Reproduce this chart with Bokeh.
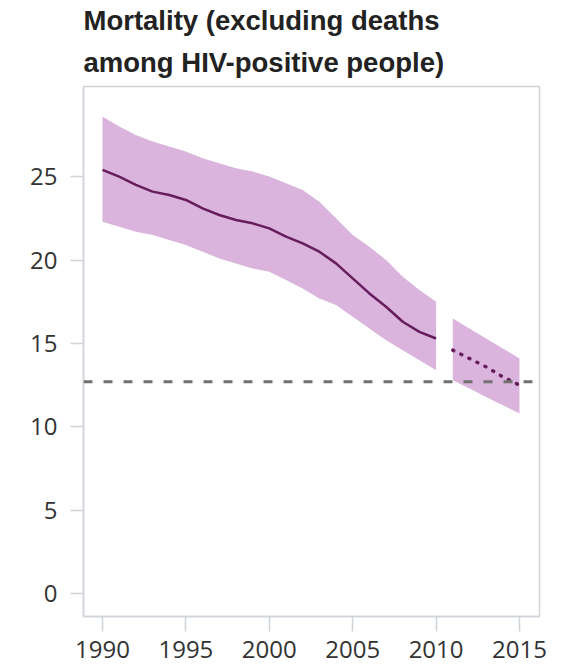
from bokeh.plotting import figure
from bokeh.models import Span, Range1d, FixedTicker, Title
from bokeh.embed import file_html
from bokeh.resources import INLINE

# Estimated TB mortality (per 100 000, excluding HIV-positive deaths)
years_hist = list(range(1990, 2011))
central_hist = [25.4, 25.0, 24.5, 24.1, 23.9, 23.6, 23.1, 22.7, 22.4, 22.2, 21.9,
                21.4, 21.0, 20.5, 19.8, 18.9, 18.0, 17.2, 16.3, 15.7, 15.3]
upper_hist = [28.6, 28.0, 27.5, 27.1, 26.8, 26.5, 26.1, 25.8, 25.5, 25.3, 25.0,
              24.6, 24.2, 23.5, 22.5, 21.5, 20.8, 20.0, 19.0, 18.2, 17.5]
lower_hist = [22.3, 22.0, 21.7, 21.5, 21.2, 20.9, 20.5, 20.1, 19.8, 19.5, 19.3,
              18.8, 18.3, 17.7, 17.3, 16.6, 15.9, 15.2, 14.6, 14.0, 13.4]

# Projection 2011-2015
years_proj = [2011, 2012, 2013, 2014, 2015]
central_proj = [14.6, 14.1, 13.6, 13.0, 12.5]
upper_proj = [16.5, 15.9, 15.3, 14.7, 14.1]
lower_proj = [12.8, 12.3, 11.8, 11.3, 10.8]

# Target: half of the 1990 level
target = 12.7

title_lines = ["Mortality (excluding deaths", "among HIV-positive people)"]
x_ticks = [1990, 1995, 2000, 2005, 2010, 2015]
y_ticks = [0, 5, 10, 15, 20, 25]

band_color = "#dab4dc"
line_color = "#671d5d"
grey = "#cfd4da"
label_font = "Open Sans"

p = figure(
    width=564, height=666,
    x_range=Range1d(1988.86, 2016.2), y_range=Range1d(-1.36, 30.4),
    output_backend="svg", toolbar_location=None,
    min_border_left=83, min_border_right=25, min_border_bottom=50,
    min_border_top=86,
)
p.title.visible = False

# two-line heading: the lower line sits next to the frame, the upper above it
for line, gap in zip(reversed(title_lines), [18, 0]):
    p.add_layout(Title(text=line, text_font="Liberation Sans",
                       text_font_size="27.5px", text_font_style="bold",
                       text_color="#222222", standoff=gap, offset=0), "above")

p.background_fill_color = "white"
p.border_fill_color = "white"
p.outline_line_color = grey
p.outline_line_width = 1.5
p.grid.visible = False

for ax in (p.xaxis, p.yaxis):
    ax.axis_line_color = grey
    ax.axis_line_width = 1.5
    ax.major_tick_line_color = grey
    ax.major_tick_line_width = 1.5
    ax.minor_tick_line_color = None
    ax.major_tick_in = 0
    ax.major_label_text_font = label_font
    ax.major_label_text_font_size = "24px"
    ax.major_label_text_color = "#333333"

p.xaxis.ticker = FixedTicker(ticks=x_ticks)
p.xaxis.major_tick_out = 15
p.xaxis.major_label_standoff = 9

p.yaxis.ticker = FixedTicker(ticks=y_ticks)
p.yaxis.major_tick_out = 13
p.yaxis.major_label_standoff = 13

# uncertainty bands
p.varea(x=years_hist, y1=lower_hist, y2=upper_hist, fill_color=band_color)
p.varea(x=years_proj, y1=lower_proj, y2=upper_proj, fill_color=band_color)

# target line
p.add_layout(Span(location=target, dimension="width", line_color="#707070",
                  line_width=3, line_dash="9 11"))

# central estimates
p.line(years_hist, central_hist, line_color=line_color, line_width=2.5)
p.line(years_proj, central_proj, line_color=line_color, line_width=3.5,
       line_dash="1 8", line_cap="round")

open("out.html", "w").write(file_html(p, INLINE))
